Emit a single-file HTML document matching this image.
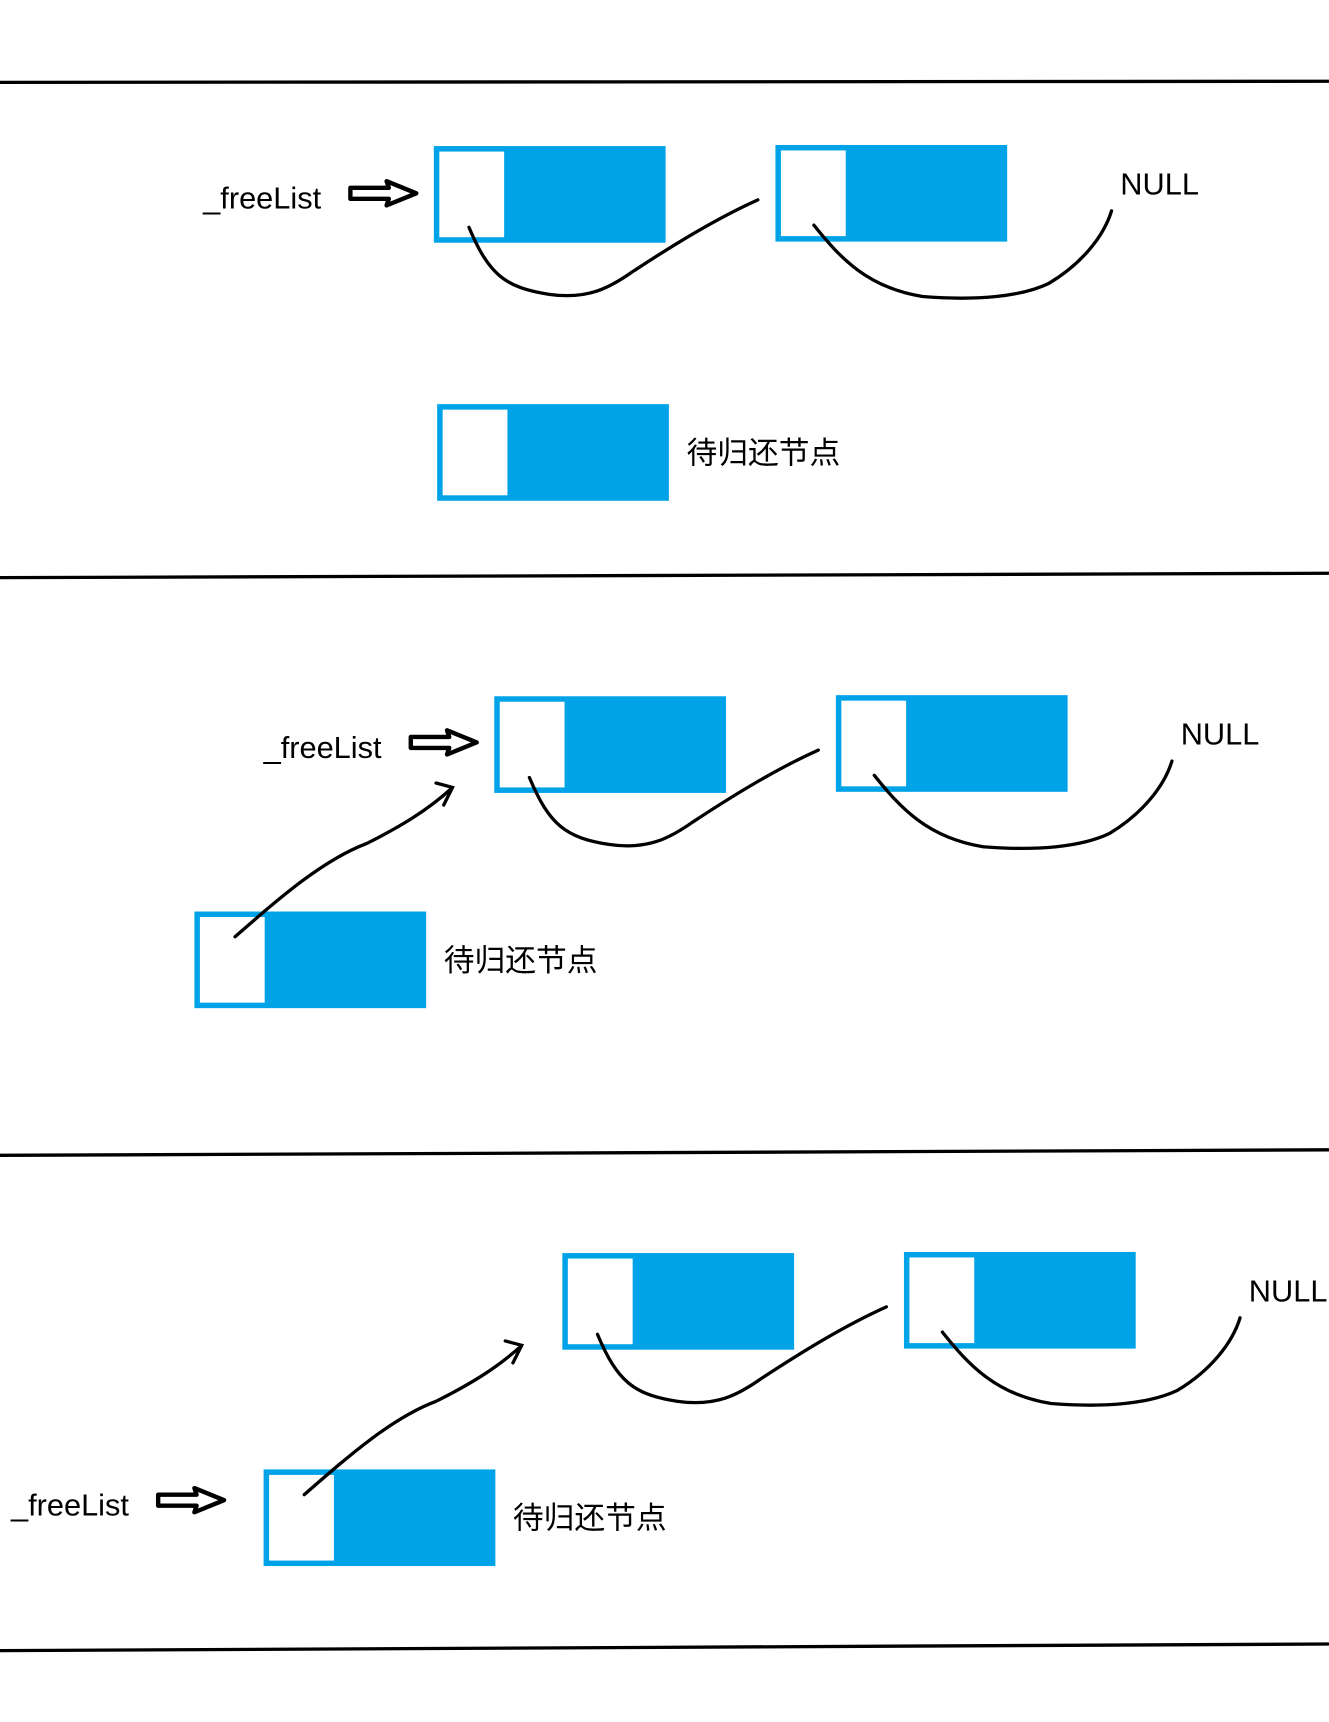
<!DOCTYPE html>
<html><head><meta charset="utf-8"><style>
html,body{margin:0;padding:0;background:#fff;}
svg{display:block;}
text{font-family:"Liberation Sans","Noto Sans CJK SC",sans-serif;font-size:28px;fill:#000;}
</style></head><body>
<svg id="s" width="1329" height="1722" viewBox="0 0 1210 1568" preserveAspectRatio="none" xmlns="http://www.w3.org/2000/svg">
<line x1="0" y1="75" x2="1210" y2="74" stroke="#000" stroke-width="3"/>
<line x1="0" y1="526" x2="1210" y2="522" stroke="#000" stroke-width="3"/>
<line x1="0" y1="1052" x2="1210" y2="1047" stroke="#000" stroke-width="3"/>
<line x1="0" y1="1503" x2="1210" y2="1497" stroke="#000" stroke-width="3"/>
</svg>
<script>
const NS='http://www.w3.org/2000/svg';
const svg=document.getElementById('s');
function el(tag,attrs,parent){const e=document.createElementNS(NS,tag);for(const k in attrs)e.setAttribute(k,attrs[k]);(parent||svg).appendChild(e);return e;}
function node(x,y,name,g){
  const grp=el('g',{},g);
  
  
  el('rect',{x:x,y:y,width:211,height:88,fill:'#00a2e8'},grp);
  el('rect',{x:x+5,y:y+5,width:59,height:78,fill:'#fff'},grp);
}
function hollowArrow(x,y,name,g){
  const p=el('path',{d:`M${x} ${y-5} L${x+35} ${y-5} L${x+33} ${y-11} L${x+60} ${y} L${x+33} ${y+11} L${x+35} ${y+5} L${x} ${y+5} Z`,fill:'none',stroke:'#000','stroke-width':4,'stroke-linejoin':'round'},g);
  
  
}
function txt(x,y,s,name,g){
  const t=el('text',{x:x,y:y},g);t.textContent=s;
  
  
}
function curve(d,name,g){
  const p=el('path',{d:d,fill:'none',stroke:'#000','stroke-width':3,'stroke-linecap':'round'},g);
  
  
}
function panel(dx,dy,idx,ret,fl,up){
  const g=el('g',{transform:`translate(${dx},${dy})`});
  
  
  node(395,133,'list-node-1',g);
  node(706,132,'list-node-2',g);
  curve('M427 207 C445 250 460 262 500 268 C535 273 555 262 575 248 C610 225 650 200 690 182','next-link-1',g);
  curve('M741 205 C765 235 790 262 840 270 C890 274 930 270 955 258 C985 240 1005 215 1012 192','next-link-2',g);
  txt(1020,177,'NULL','null-label',g);
  node(ret[0],ret[1],'pending-node',g);
  txt(ret[0]+227,ret[1]+54,'待归还节点','pending-node-label',g);
  txt(fl[0],fl[1],'_freeList','freelist-label',g);
  hollowArrow(fl[0]+134,fl[1]-14,'freelist-pointer-arrow',g);
  if(up){
    const sx=ret[0]+37,sy=ret[1]+23;
    curve(`M${sx} ${sy} C${sx+40} ${sy-35} ${sx+80} ${sy-70} ${sx+120} ${sy-85} C${sx+150} ${sy-100} ${sx+175} ${sy-115} ${sx+197} ${sy-135} M${sx+183} ${sy-140} L${sx+198} ${sy-136} L${sx+190} ${sy-120}`,'pending-next-link',g);
  }
}
panel(0,0,1,[398-0,368],[185,190],false);
panel(55,501,2,[177-55,830-501],[240-55,690-501],true);
panel(117,1008,3,[240-117,1338-1008],[10-117,1380-1008],true);
</script>
</body></html>
